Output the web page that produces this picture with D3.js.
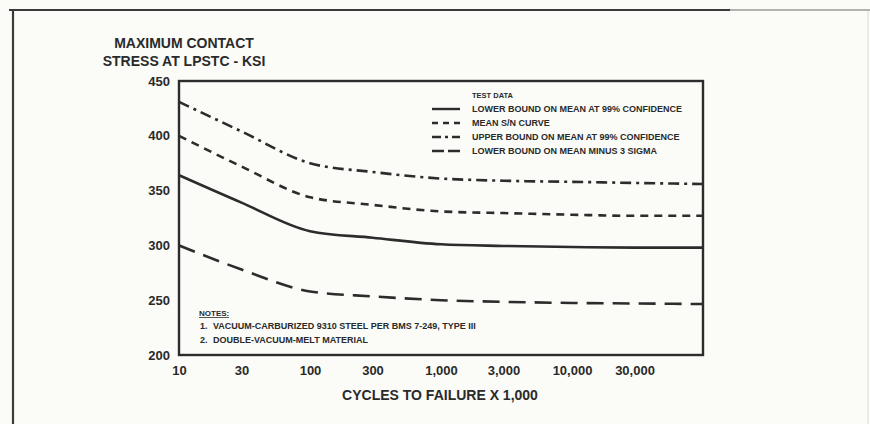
<!DOCTYPE html>
<html>
<head>
<meta charset="utf-8">
<script src="https://cdn.jsdelivr.net/npm/d3@7"></script>
<style>
  html, body { margin: 0; padding: 0; background: #fbfbf8; }
  svg { display: block; }
  text { font-family: "Liberation Sans", Arial, sans-serif; font-weight: bold; fill: #2a2a2a; }
</style>
</head>
<body>
<svg id="chart" width="870" height="424"></svg>
<script>
// Cycles to failure (x 1,000) at which each curve is sampled
const cycles = [10, 30, 100, 300, 1000, 3000, 10000, 30000, 100000];

// Maximum contact stress at LPSTC, ksi
const upper99 = [431, 404, 375, 367, 361, 359, 358, 357, 356];
const meanSN = [400, 372, 344, 337, 331, 329.5, 328, 327, 327];
const lower99 = [364, 339, 313, 307, 301, 299.5, 298.5, 298, 298];
const minus3Sigma = [300, 278, 258, 253.5, 250, 248.5, 247.5, 247, 246.5];

// Axis ticks
const xTicks = [10, 30, 100, 300, 1000, 3000, 10000, 30000];
const yTicks = [200, 250, 300, 350, 400, 450];

// Legend and notes text
const seriesNames = [
  "LOWER BOUND ON MEAN AT 99% CONFIDENCE",
  "MEAN S/N CURVE",
  "UPPER BOUND ON MEAN AT 99% CONFIDENCE",
  "LOWER BOUND ON MEAN MINUS 3 SIGMA"
];
const notes = [
  "1.",  "VACUUM-CARBURIZED 9310 STEEL PER BMS 7-249, TYPE III",
  "2.",  "DOUBLE-VACUUM-MELT MATERIAL"
];

const ink = "#2c2c2c";
const svg = d3.select("#chart");

// page frame
svg.append("line").attr("x1", 9).attr("x2", 730).attr("y1", 10).attr("y2", 10)
  .attr("stroke", "#3a3a3a").attr("stroke-width", 2.2);
svg.append("line").attr("x1", 730).attr("x2", 870).attr("y1", 10).attr("y2", 10)
  .attr("stroke", "#9a9a9a").attr("stroke-width", 1.6);
svg.append("line").attr("x1", 13).attr("x2", 13).attr("y1", 9).attr("y2", 424)
  .attr("stroke", "#3a3a3a").attr("stroke-width", 2.2);
svg.append("line").attr("x1", 868).attr("x2", 868).attr("y1", 11).attr("y2", 424)
  .attr("stroke", "#e2e2dc").attr("stroke-width", 1.2);

const plot = { left: 179, top: 81, right: 703, bottom: 355 };

const x = d3.scaleLog().domain([10, 100000]).range([plot.left, plot.right]);
const y = d3.scaleLinear().domain([200, 450]).range([plot.bottom, plot.top]);

// axes (labels only, no tick marks)
const xAxis = d3.axisBottom(x).tickValues(xTicks).tickSize(0).tickPadding(11)
  .tickFormat(d3.format(","));
const gx = svg.append("g").attr("transform", `translate(0,${plot.bottom})`).call(xAxis);
gx.select(".domain").remove();
gx.selectAll("text").attr("font-size", 13).attr("fill", ink)
  .style("font-family", "'Liberation Sans', Arial, sans-serif").style("font-weight", "bold");

const yAxis = d3.axisLeft(y).tickValues(yTicks).tickSize(0).tickPadding(9);
const gy = svg.append("g").attr("transform", `translate(${plot.left},0)`).call(yAxis);
gy.select(".domain").remove();
gy.selectAll("text").attr("font-size", 13).attr("fill", ink)
  .style("font-family", "'Liberation Sans', Arial, sans-serif").style("font-weight", "bold");

// plot frame
svg.append("rect")
  .attr("x", plot.left).attr("y", plot.top)
  .attr("width", plot.right - plot.left).attr("height", plot.bottom - plot.top)
  .attr("fill", "none").attr("stroke", ink).attr("stroke-width", 2.4);

// axis titles
svg.append("text").attr("x", 184).attr("y", 48).attr("text-anchor", "middle")
  .attr("font-size", 14).text("MAXIMUM CONTACT");
svg.append("text").attr("x", 184).attr("y", 66).attr("text-anchor", "middle")
  .attr("font-size", 14).text("STRESS AT LPSTC - KSI");
svg.append("text").attr("x", 440).attr("y", 400).attr("text-anchor", "middle")
  .attr("font-size", 14).text("CYCLES TO FAILURE X 1,000");

// curves: plot dash patterns and the shorter key-swatch patterns
const series = [
  { values: lower99, dash: null, key: null },
  { values: meanSN, dash: "8,6", key: "6,5" },
  { values: upper99, dash: "11,5,3,5", key: "9,4,3,4" },
  { values: minus3Sigma, dash: "17,9", key: "12,4" }
];

const line = d3.line()
  .x(d => x(d[0]))
  .y(d => y(d[1]))
  .curve(d3.curveMonotoneX);

svg.append("g").selectAll("path").data(series).join("path")
  .attr("d", s => line(cycles.map((c, i) => [c, s.values[i]])))
  .attr("fill", "none")
  .attr("stroke", ink)
  .attr("stroke-width", 2.6)
  .attr("stroke-dasharray", s => s.dash);

// legend
const lg = svg.append("g");
lg.append("text").attr("x", 472).attr("y", 98).attr("font-size", 7.5).text("TEST DATA");
const rows = lg.selectAll("g.row").data(series).join("g")
  .attr("class", "row")
  .attr("transform", (d, i) => `translate(0,${109 + i * 14})`);
rows.append("line")
  .attr("x1", 432).attr("x2", 460).attr("y1", 0).attr("y2", 0)
  .attr("stroke", ink).attr("stroke-width", 2.4)
  .attr("stroke-dasharray", d => d.key);
rows.append("text")
  .attr("x", 472).attr("y", 3.2)
  .attr("font-size", 9)
  .text((d, i) => seriesNames[i]);

// notes
const ng = svg.append("g");
ng.append("text").attr("x", 199).attr("y", 315.5).attr("font-size", 8).text("NOTES:");
ng.append("line").attr("x1", 199).attr("x2", 229).attr("y1", 317.5).attr("y2", 317.5)
  .attr("stroke", ink).attr("stroke-width", 0.8);
for (let i = 0; i < 2; i++) {
  ng.append("text").attr("x", 200).attr("y", 329 + i * 13.5).attr("font-size", 9).text(notes[i * 2]);
  ng.append("text").attr("x", 213).attr("y", 329 + i * 13.5).attr("font-size", 9).text(notes[i * 2 + 1]);
}
</script>
</body>
</html>
